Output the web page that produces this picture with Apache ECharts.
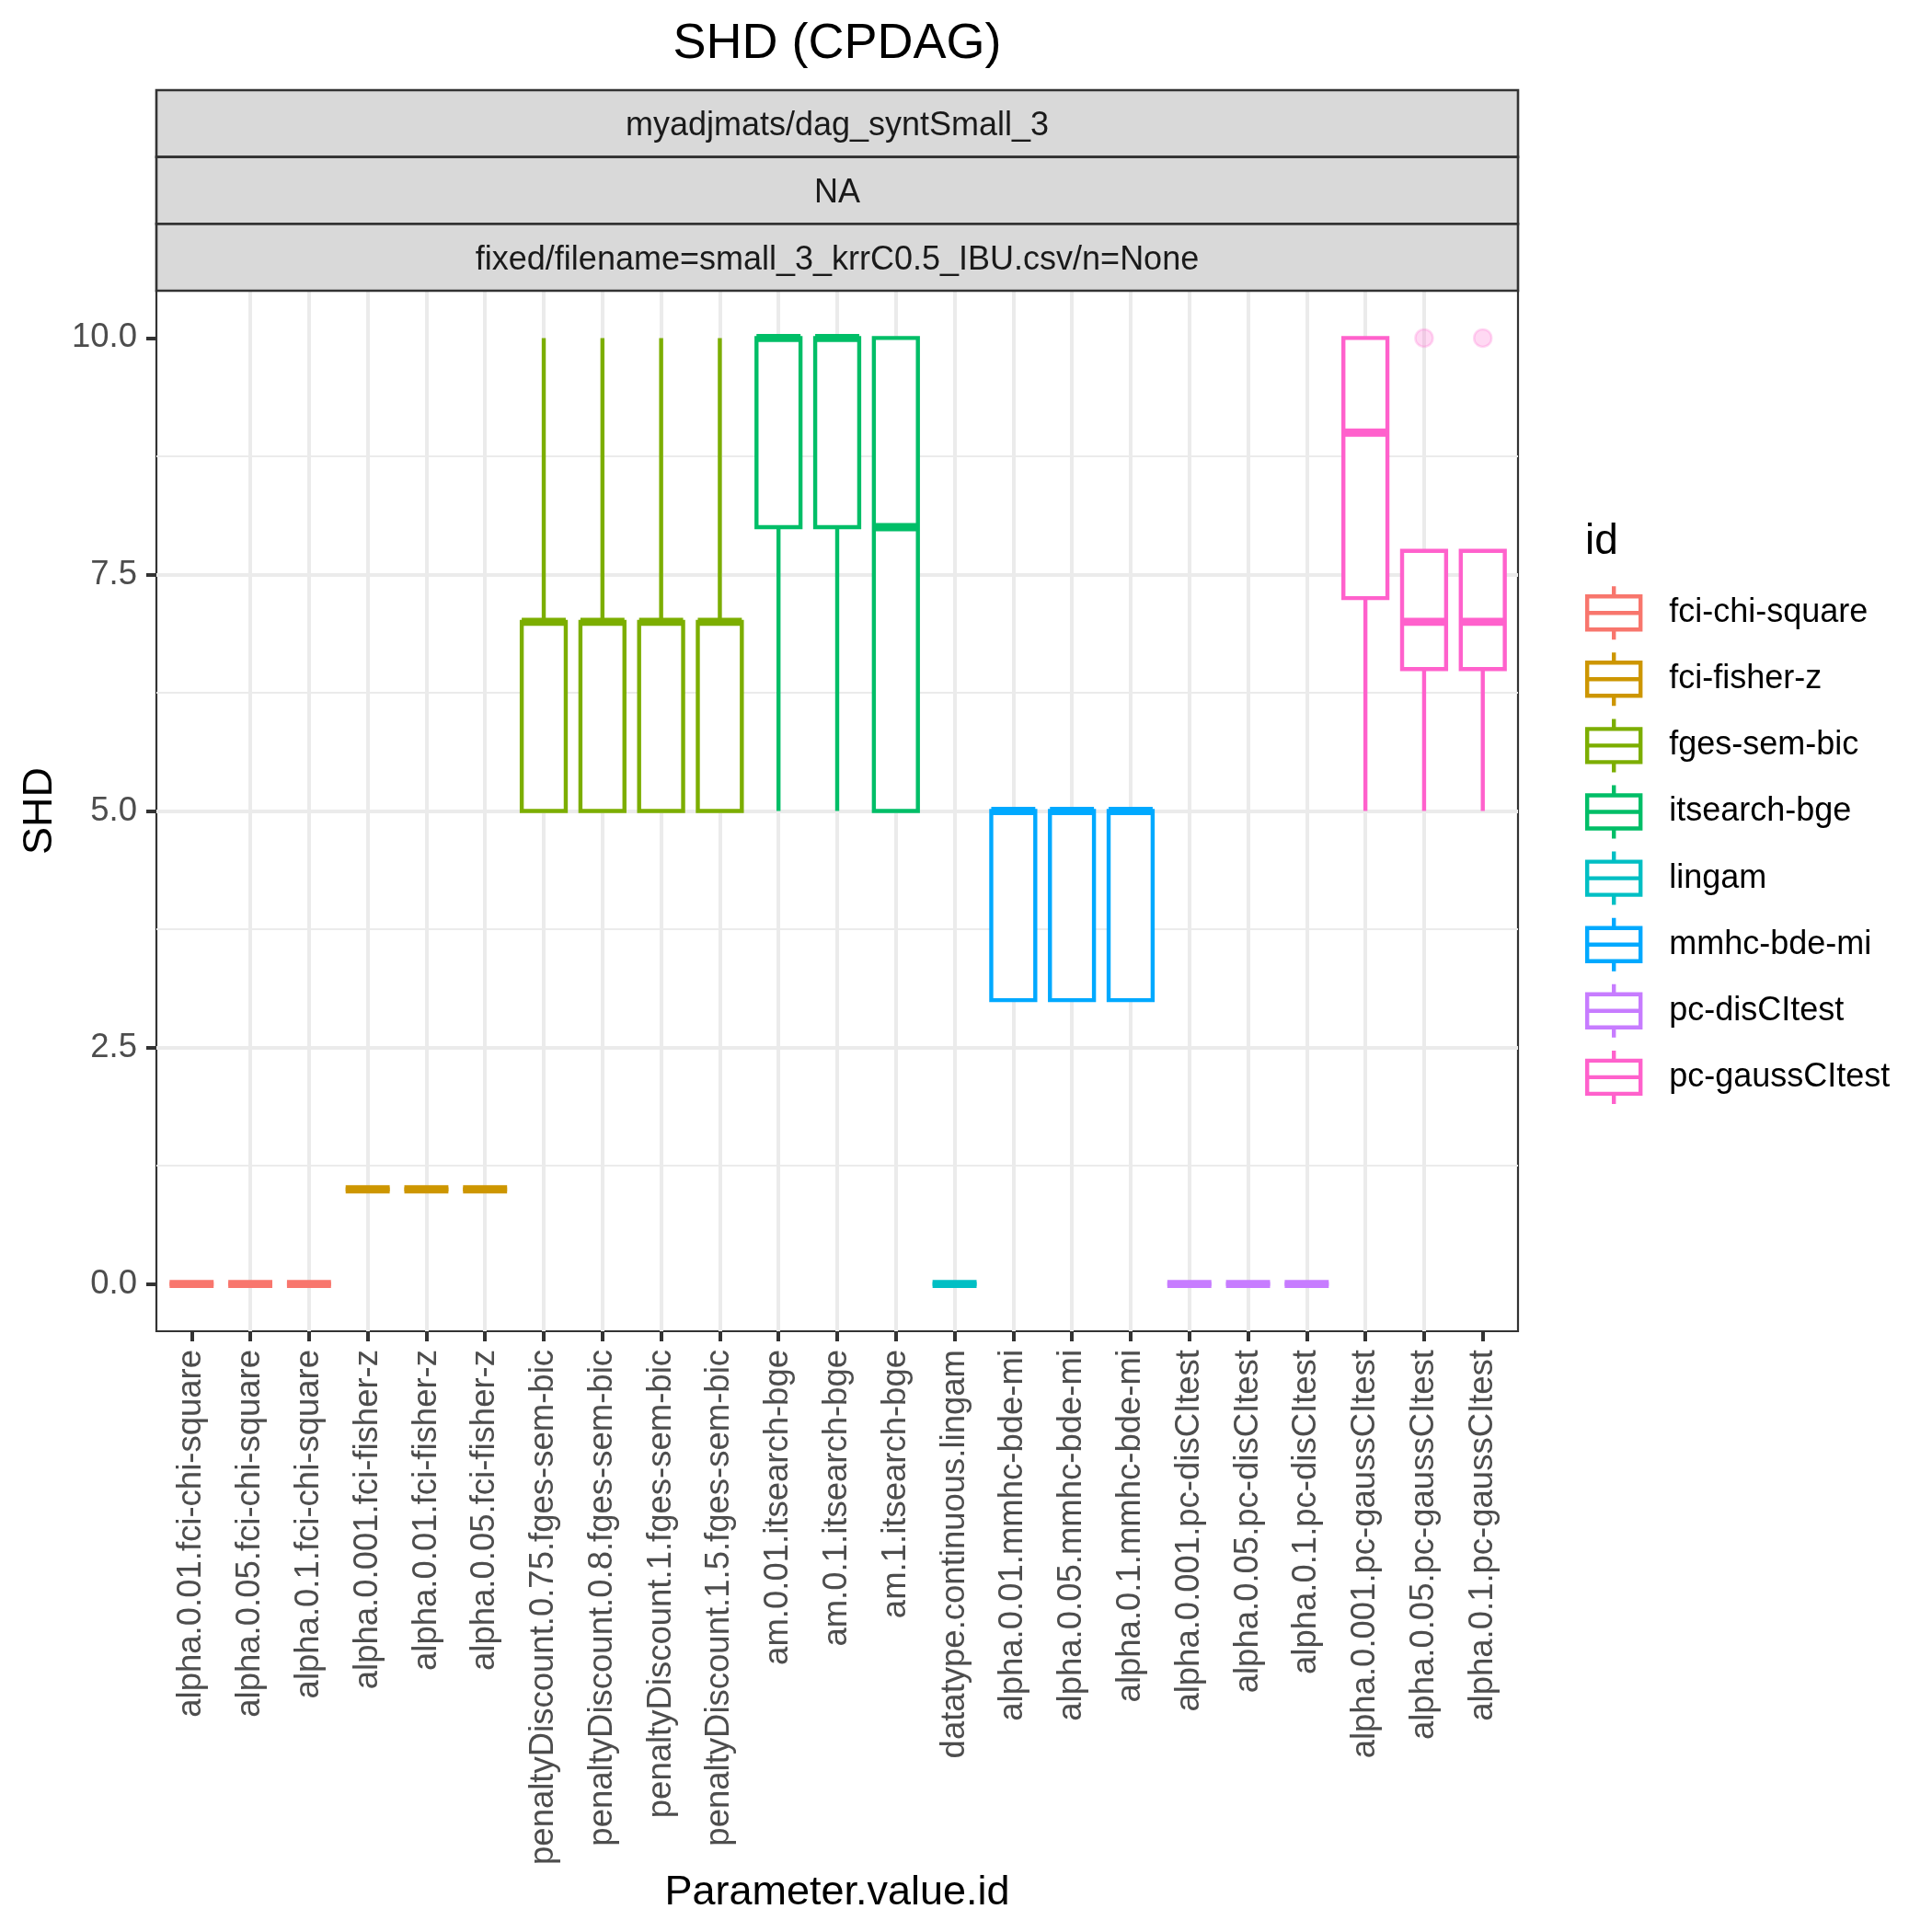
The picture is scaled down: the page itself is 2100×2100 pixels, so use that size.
<!DOCTYPE html>
<html>
<head>
<meta charset="utf-8">
<script src="https://cdn.jsdelivr.net/npm/echarts@6/dist/echarts.min.js"></script>
<style>
html, body { margin: 0; padding: 0; background: #ffffff; }
#chart { width: 2100px; height: 2100px; }
</style>
</head>
<body>
<div id="chart"></div>
<script>
// ---------------- data ----------------
const categories = [
  'alpha.0.01.fci-chi-square', 'alpha.0.05.fci-chi-square', 'alpha.0.1.fci-chi-square',
  'alpha.0.001.fci-fisher-z', 'alpha.0.01.fci-fisher-z', 'alpha.0.05.fci-fisher-z',
  'penaltyDiscount.0.75.fges-sem-bic', 'penaltyDiscount.0.8.fges-sem-bic',
  'penaltyDiscount.1.fges-sem-bic', 'penaltyDiscount.1.5.fges-sem-bic',
  'am.0.01.itsearch-bge', 'am.0.1.itsearch-bge', 'am.1.itsearch-bge',
  'datatype.continuous.lingam',
  'alpha.0.01.mmhc-bde-mi', 'alpha.0.05.mmhc-bde-mi', 'alpha.0.1.mmhc-bde-mi',
  'alpha.0.001.pc-disCItest', 'alpha.0.05.pc-disCItest', 'alpha.0.1.pc-disCItest',
  'alpha.0.001.pc-gaussCItest', 'alpha.0.05.pc-gaussCItest', 'alpha.0.1.pc-gaussCItest'
];
const groupIds = ['fci-chi-square', 'fci-fisher-z', 'fges-sem-bic', 'itsearch-bge',
  'lingam', 'mmhc-bde-mi', 'pc-disCItest', 'pc-gaussCItest'];
const groupColors = ['#F8766D', '#CD9600', '#7CAE00', '#00BE67',
  '#00BFC4', '#00A9FF', '#C77CFF', '#FF61CC'];
const categoryGroup = [0,0,0, 1,1,1, 2,2,2,2, 3,3,3, 4, 5,5,5, 6,6,6, 7,7,7];
const boxMin    = [0,0,0, 1,1,1, 5,5,5,5,  5,5,5,   0, 3,3,3, 0,0,0, 5,5,5];
const boxQ1     = [0,0,0, 1,1,1, 5,5,5,5,  8,8,5,   0, 3,3,3, 0,0,0, 7.25,6.5,6.5];
const boxMedian = [0,0,0, 1,1,1, 7,7,7,7, 10,10,8,  0, 5,5,5, 0,0,0, 9,7,7];
const boxQ3     = [0,0,0, 1,1,1, 7,7,7,7, 10,10,10, 0, 5,5,5, 0,0,0, 10,7.75,7.75];
const boxMax    = [0,0,0, 1,1,1, 10,10,10,10, 10,10,10, 0, 5,5,5, 0,0,0, 10,7.75,7.75];
const outlierCategory = [21, 22];
const outlierValue = [10, 10];
const yTickValues = [0, 2.5, 5, 7.5, 10];
const stripLabels = ['myadjmats/dag_syntSmall_3', 'NA', 'fixed/filename=small_3_krrC0.5_IBU.csv/n=None'];
const chartTitle = 'SHD (CPDAG)';
const xAxisTitle = 'Parameter.value.id';
const yAxisTitle = 'SHD';
const legendTitle = 'id';

// ---------------- layout / style ----------------
const FONT = '"Liberation Sans", Arimo, Helvetica, Arial, sans-serif';
const GRID = { left: 170, top: 316, width: 1480, height: 1131 };
const STRIP_TOP = 98;
const BOX_WIDTH = 0.75;
const LW = 4.4;
const MED_LW = 8.9;
const xTickValues = categories.map((c, i) => i);

function makeRenderItem(color) {
  return function (params, api) {
    const x = api.value(0);
    const cx = api.coord([x, 0])[0];
    const yMin = api.coord([x, api.value(1)])[1];
    const yQ1 = api.coord([x, api.value(2)])[1];
    const yMed = api.coord([x, api.value(3)])[1];
    const yQ3 = api.coord([x, api.value(4)])[1];
    const yMax = api.coord([x, api.value(5)])[1];
    const halfW = api.size([BOX_WIDTH, 0])[0] / 2;
    const children = [];
    if (yMin - yQ1 > 0.5) {
      children.push({ type: 'line', shape: { x1: cx, y1: yQ1, x2: cx, y2: yMin },
        style: { stroke: color, lineWidth: LW } });
    }
    if (yQ3 - yMax > 0.5) {
      children.push({ type: 'line', shape: { x1: cx, y1: yMax, x2: cx, y2: yQ3 },
        style: { stroke: color, lineWidth: LW } });
    }
    children.push({ type: 'rect', shape: { x: cx - halfW, y: yQ3, width: 2 * halfW, height: yQ1 - yQ3 },
      style: { fill: '#ffffff', stroke: color, lineWidth: LW } });
    children.push({ type: 'line', shape: { x1: cx - halfW, y1: yMed, x2: cx + halfW, y2: yMed },
      style: { stroke: color, lineWidth: MED_LW, lineCap: 'butt' } });
    return { type: 'group', children: children };
  };
}

const series = groupIds.map((gid, g) => {
  const data = [];
  categories.forEach((c, i) => {
    if (categoryGroup[i] === g) {
      data.push([i, boxMin[i], boxQ1[i], boxMedian[i], boxQ3[i], boxMax[i]]);
    }
  });
  return {
    name: gid,
    type: 'custom',
    renderItem: makeRenderItem(groupColors[g]),
    itemStyle: { color: groupColors[g] },
    encode: { x: 0, y: [1, 2, 3, 4, 5] },
    data: data,
    z: 5
  };
});
series.push({
  name: groupIds[7],
  type: 'scatter',
  symbol: 'circle',
  symbolSize: 19,
  itemStyle: { color: 'rgba(255,97,204,0.3)', borderColor: 'rgba(255,97,204,0.3)', borderWidth: 2.5 },
  data: outlierCategory.map((c, i) => [c, outlierValue[i]]),
  z: 6
});

const keyIcon = 'path://M0 11 L58 11 L58 47 L0 47 Z M0 29 L58 29 M29 0 L29 11 M29 47 L29 58';

const graphics = [];
const stripH = (GRID.top - STRIP_TOP) / stripLabels.length;
stripLabels.forEach((s, i) => {
  graphics.push({
    type: 'rect', z: 10,
    shape: { x: GRID.left, y: STRIP_TOP + i * stripH, width: GRID.width, height: stripH },
    style: { fill: '#D9D9D9', stroke: '#333333', lineWidth: 2.6 }
  });
  graphics.push({
    type: 'text', z: 11,
    x: GRID.left + GRID.width / 2, y: STRIP_TOP + i * stripH + stripH / 2 + 3,
    style: { text: s, fill: '#1A1A1A', font: '36px ' + FONT, align: 'center', verticalAlign: 'middle',
      textAlign: 'center', textVerticalAlign: 'middle' }
  });
});

const option = {
  animation: false,
  backgroundColor: '#ffffff',
  textStyle: { fontFamily: FONT },
  title: [
    { text: chartTitle, left: GRID.left + GRID.width / 2, top: 21, textAlign: 'center', padding: 0,
      textStyle: { fontSize: 54, fontWeight: 'normal', color: '#000000', fontFamily: FONT } },
    { text: legendTitle, left: 1723, top: 566, padding: 0,
      textStyle: { fontSize: 46, fontWeight: 'normal', color: '#000000', fontFamily: FONT } }
  ],
  legend: {
    orient: 'vertical',
    left: 1723,
    top: 635,
    padding: 0,
    itemWidth: 110,
    itemHeight: 58,
    itemGap: 9.7,
    symbolKeepAspect: true,
    selectedMode: false,
    textStyle: { fontSize: 36, color: '#000000', fontFamily: FONT },
    data: groupIds.map((gid, g) => ({
      name: gid,
      icon: keyIcon,
      itemStyle: { color: '#ffffff', borderColor: groupColors[g], borderWidth: LW }
    }))
  },
  grid: {
    left: GRID.left, top: GRID.top, width: GRID.width, height: GRID.height,
    show: true, borderColor: '#333333', borderWidth: 2.2, backgroundColor: '#ffffff',
    containLabel: false, outerBoundsMode: 'none'
  },
  xAxis: {
    type: 'value',
    position: 'bottom',
    min: -0.6, max: categories.length - 1 + 0.6,
    minInterval: 1, maxInterval: 1,
    axisLine: { show: false, onZero: false },
    axisTick: { show: true, inside: false, length: 11, lineStyle: { color: '#333333', width: 4 }, customValues: xTickValues },
    axisLabel: {
      show: true, rotate: 90, margin: 20, fontSize: 36.5, color: '#4D4D4D', fontFamily: FONT,
      customValues: xTickValues,
      formatter: v => (Number.isInteger(v) && categories[v] !== undefined ? categories[v] : '')
    },
    splitLine: { show: true, showMinLine: false, showMaxLine: false, lineStyle: { color: '#EBEBEB', width: 4 } },
    name: xAxisTitle, nameLocation: 'middle', nameGap: 574,
    nameTextStyle: { fontSize: 45, color: '#000000', fontFamily: FONT }
  },
  yAxis: {
    type: 'value',
    position: 'left',
    min: -0.5, max: 10.5,
    minInterval: 2.5, maxInterval: 2.5,
    axisLine: { show: false, onZero: false },
    axisTick: { show: true, inside: false, length: 11, lineStyle: { color: '#333333', width: 4 }, customValues: yTickValues },
    axisLabel: {
      show: true, margin: 21, fontSize: 36.5, color: '#4D4D4D', fontFamily: FONT,
      customValues: yTickValues,
      formatter: v => (yTickValues.indexOf(v) >= 0 ? v.toFixed(1) : '')
    },
    splitLine: { show: true, showMinLine: false, showMaxLine: false, lineStyle: { color: '#EBEBEB', width: 4 } },
    minorTick: { show: false, splitNumber: 2 },
    minorSplitLine: { show: true, lineStyle: { color: '#EBEBEB', width: 2.2 } },
    name: yAxisTitle, nameLocation: 'middle', nameGap: 104, nameRotate: 90,
    nameTextStyle: { fontSize: 45, color: '#000000', fontFamily: FONT }
  },
  graphic: graphics,
  series: series
};

const chart = echarts.init(document.getElementById('chart'), null, { renderer: 'canvas' });
chart.setOption(option);
</script>
</body>
</html>
